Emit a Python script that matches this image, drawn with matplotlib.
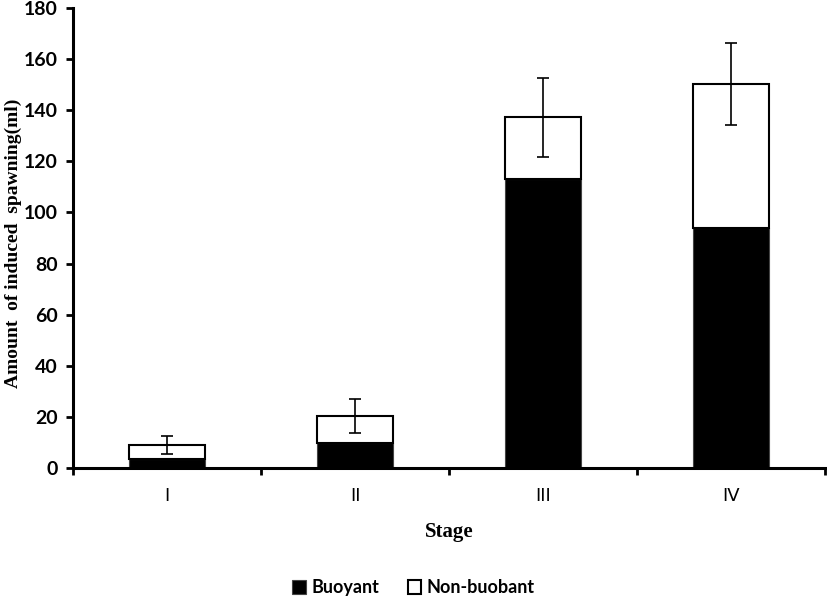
## Stacked bar chart - induced spawning by stage
import numpy as np
import matplotlib.pyplot as plt
from matplotlib.ticker import FixedLocator, NullFormatter

# data
stages = ["I", "II", "III", "IV"]
buoyant = [3.5, 9.8, 113.0, 94.0]
non_buoyant = [5.5, 10.5, 24.3, 56.2]
err = [3.7, 6.8, 15.5, 16.0]

x = np.arange(len(stages))
totals = np.array(buoyant) + np.array(non_buoyant)

fig = plt.figure(figsize=(8.27, 6.01), dpi=100)
ax = fig.add_axes([0.0883, 0.2213, 0.9093, 0.7654])

ax.bar(x, buoyant, width=0.4, color="black", edgecolor="#444444", linewidth=0.8, label="Buoyant")
ax.bar(x, non_buoyant, width=0.4, bottom=buoyant, color="white", edgecolor="black",
       linewidth=1.5, label="Non-buobant")
ax.errorbar(x, totals, yerr=err, fmt="none", ecolor="black", elinewidth=1.2,
            capsize=4.5, capthick=1.2)

ax.set_xlim(-0.5, 3.5)
ax.set_ylim(0, 180)
ax.set_yticks(range(0, 181, 20))

# category labels centred, tick marks between categories
ax.set_xticks(x)
ax.set_xticklabels(stages, fontfamily="DejaVu Sans Condensed", fontsize=13)
ax.tick_params(axis="x", which="major", length=0, pad=14)
ax.xaxis.set_minor_locator(FixedLocator([-0.5, 0.5, 1.5, 2.5, 3.5]))
ax.xaxis.set_minor_formatter(NullFormatter())
ax.tick_params(axis="x", which="minor", length=5, width=2, direction="out")
ax.tick_params(axis="y", length=5, width=2, direction="out", pad=6)

for lbl in ax.get_yticklabels():
    lbl.set_fontfamily("Lato")
    lbl.set_fontweight("bold")
    lbl.set_fontsize(14)

for s in ["top", "right"]:
    ax.spines[s].set_visible(False)
ax.spines["left"].set_linewidth(2.2)
ax.spines["bottom"].set_linewidth(2.2)

ax.set_xlabel("Stage", fontfamily="Liberation Serif", fontweight="bold", fontsize=15, labelpad=12)
fig.text(0.016, 0.595, "Amount  of induced  spawning(ml)", rotation=90, ha="center", va="center",
         fontfamily="Liberation Serif", fontweight="bold", fontsize=14)

fig.legend(loc="center", bbox_to_anchor=(0.5, 0.022), ncol=2, frameon=False,
           handlelength=0.75, handleheight=0.75, handletextpad=0.3, columnspacing=1.6,
           prop={"family": "Lato", "weight": "bold", "size": 13})

fig.savefig("out.png", dpi=100)
